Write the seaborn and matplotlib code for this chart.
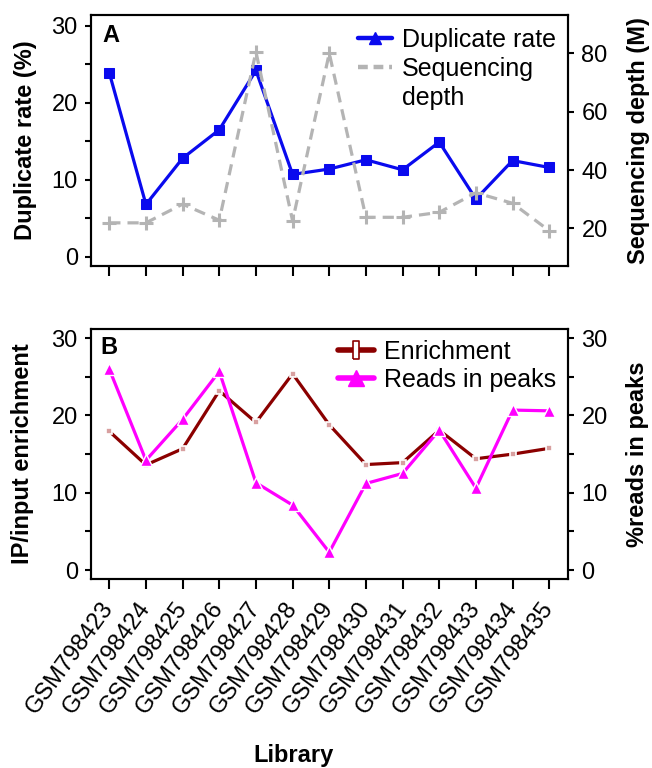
import numpy as np
import pandas as pd
import matplotlib
matplotlib.use('Agg')
import matplotlib.pyplot as plt
import seaborn as sns
from matplotlib.lines import Line2D
from matplotlib.ticker import MultipleLocator, FixedLocator, FuncFormatter

libraries = ['GSM798423', 'GSM798424', 'GSM798425', 'GSM798426', 'GSM798427',
             'GSM798428', 'GSM798429', 'GSM798430', 'GSM798431', 'GSM798432',
             'GSM798433', 'GSM798434', 'GSM798435']
duplicate_rate = [23.9, 6.8, 12.8, 16.5, 24.2, 10.7, 11.4, 12.6, 11.3, 14.9, 7.5, 12.5, 11.6]
sequencing_depth = [21.9, 21.9, 28.3, 22.8, 80.5, 22.6, 80.0, 23.8, 23.8, 25.5, 32.2, 28.6, 19.2]
enrichment = [17.95, 13.6, 15.7, 23.2, 19.1, 25.4, 18.8, 13.65, 13.9, 18.1, 14.4, 15.0, 15.75]
reads_in_peaks = [26.0, 14.2, 19.5, 25.7, 11.3, 8.4, 2.3, 11.2, 12.5, 18.1, 10.6, 20.7, 20.6]

sns.set_theme(style='ticks')
plt.rcParams['font.family'] = ['Liberation Sans', 'DejaVu Sans']
plt.rcParams['axes.linewidth'] = 1.5
for k in ('text.color', 'axes.labelcolor', 'xtick.color', 'ytick.color',
          'xtick.labelcolor', 'ytick.labelcolor', 'axes.edgecolor'):
    plt.rcParams[k] = 'black'

FS = 17
LFS = 18
BLUE = '#0A0AEE'
GREY = '#B4B4B4'
DRED = '#8B0000'
MAG = '#FF00FF'

fig = plt.figure(figsize=(6.52, 7.68), dpi=100)
axA = fig.add_axes([0.1395, 0.6536, 0.731, 0.3268])
axB = fig.add_axes([0.1395, 0.2457, 0.731, 0.326])

# ---- Panel A ----
sns.lineplot(x=libraries, y=duplicate_rate, ax=axA, sort=False, color=BLUE,
             linewidth=2.3, marker='s', markersize=7, markeredgecolor=BLUE,
             legend=False)
axA2 = axA.twinx()
sns.lineplot(x=libraries, y=sequencing_depth, ax=axA2, sort=False, color=GREY,
             linewidth=2.3, linestyle=(0, (3.5, 2.2)), marker='+', markersize=10,
             markeredgewidth=2.2, markeredgecolor=GREY, legend=False)

# ---- Panel B ----
sns.lineplot(x=libraries, y=enrichment, ax=axB, sort=False, color=DRED,
             linewidth=2.3, marker='s', markersize=4.5, markerfacecolor='#D8A0A0',
             markeredgecolor='white', markeredgewidth=1.2, legend=False)
axB2 = axB.twinx()
sns.lineplot(x=libraries, y=reads_in_peaks, ax=axB2, sort=False, color=MAG,
             linewidth=2.3, marker='^', markersize=8, markerfacecolor=MAG,
             markeredgecolor='white', markeredgewidth=1.0, legend=False)

for ax in (axA, axB, axA2, axB2):
    ax.set_xlim(-0.5, 12.5)
    ax.set_xlabel('')
    for s in ax.spines.values():
        s.set_visible(True)
        s.set_linewidth(1.5)
        s.set_color('black')

axA.set_ylim(-1.2, 31.4)
axA2.set_ylim(7.1, 93.1)
axB.set_ylim(-1.2, 31.2)
axB2.set_ylim(-1.2, 31.2)

tenfmt = FuncFormatter(lambda v, p: f'{v:.0f}' if abs(v % 10) < 1e-6 else '')
for ax in (axA, axB, axB2):
    ax.yaxis.set_major_locator(MultipleLocator(5))
    ax.yaxis.set_major_formatter(tenfmt)
axA2.yaxis.set_major_locator(FixedLocator([20, 40, 60, 80]))

for ax in (axA, axB):
    ax.set_xticks(range(len(libraries)))
    ax.tick_params(axis='x', length=7, width=1.5, direction='out', color='black')
    ax.tick_params(axis='y', length=4, width=1.5, pad=5.5, labelsize=FS,
                   direction='out', color='black', labelcolor='black')
for ax in (axA2, axB2):
    ax.tick_params(axis='y', length=4, width=1.5, pad=6, labelsize=FS,
                   direction='out', color='black', labelcolor='black')

axA.set_xticklabels([])
axB.set_xticklabels(libraries, rotation=54, ha='right', va='center',
                    rotation_mode='anchor', fontsize=FS, color='black')
axB.tick_params(axis='x', pad=11)

# axis labels
axA.set_ylabel('Duplicate rate (%)', fontsize=FS, fontweight='bold')
axA.yaxis.set_label_coords(-0.138, 0.5)
axA2.set_ylabel('Sequencing depth (M)', fontsize=FS, fontweight='bold')
axA2.yaxis.set_label_coords(1.148, 0.5)
axB.set_ylabel('IP/input enrichment', fontsize=FS, fontweight='bold')
axB.yaxis.set_label_coords(-0.143, 0.5)
axB2.set_ylabel('%reads in peaks', fontsize=FS, fontweight='bold')
axB2.yaxis.set_label_coords(1.146, 0.5)
for lab in (axA.yaxis.label, axB.yaxis.label, axA2.yaxis.label, axB2.yaxis.label):
    lab.set_va('center')

axB.set_xlabel('Library', fontsize=FS, fontweight='bold')
axB.xaxis.set_label_coords(0.424, -0.702)
axB.xaxis.label.set_va('center')

# panel letters
axA.text(0.0235, 0.92, 'A', transform=axA.transAxes, fontsize=FS,
         fontweight='bold', va='center', ha='left')
axB.text(0.0197, 0.924, 'B', transform=axB.transAxes, fontsize=FS,
         fontweight='bold', va='center', ha='left')

# legends
hA = [Line2D([], [], color=BLUE, lw=3.2, marker='^', markersize=9),
      Line2D([], [], color=GREY, lw=3.2, linestyle=(0, (2.2, 1.3))),
      Line2D([], [], color='none', lw=0)]
legA = axA2.legend(hA, ['Duplicate rate', 'Sequencing', 'depth'], loc='upper right',
                   bbox_to_anchor=(0.976, 0.95), frameon=False, fontsize=LFS,
                   borderpad=0, borderaxespad=0, handlelength=1.35,
                   handletextpad=0.4, labelspacing=0.2)
rect = [(-0.5, -1.3), (0.5, -1.3), (0.5, 1.3), (-0.5, 1.3), (-0.5, -1.3)]
hB = [Line2D([], [], color=DRED, lw=4, marker=rect, markersize=13,
             markerfacecolor='white', markeredgecolor=DRED, markeredgewidth=1.2),
      Line2D([], [], color=MAG, lw=4, marker='^', markersize=11)]
legB = axB2.legend(hB, ['Enrichment', 'Reads in peaks'], loc='upper right',
                   bbox_to_anchor=(0.976, 0.956), frameon=False, fontsize=LFS,
                   borderpad=0, borderaxespad=0, handlelength=1.45,
                   handletextpad=0.4, labelspacing=0.15)

fig.savefig('out.png', dpi=100)
